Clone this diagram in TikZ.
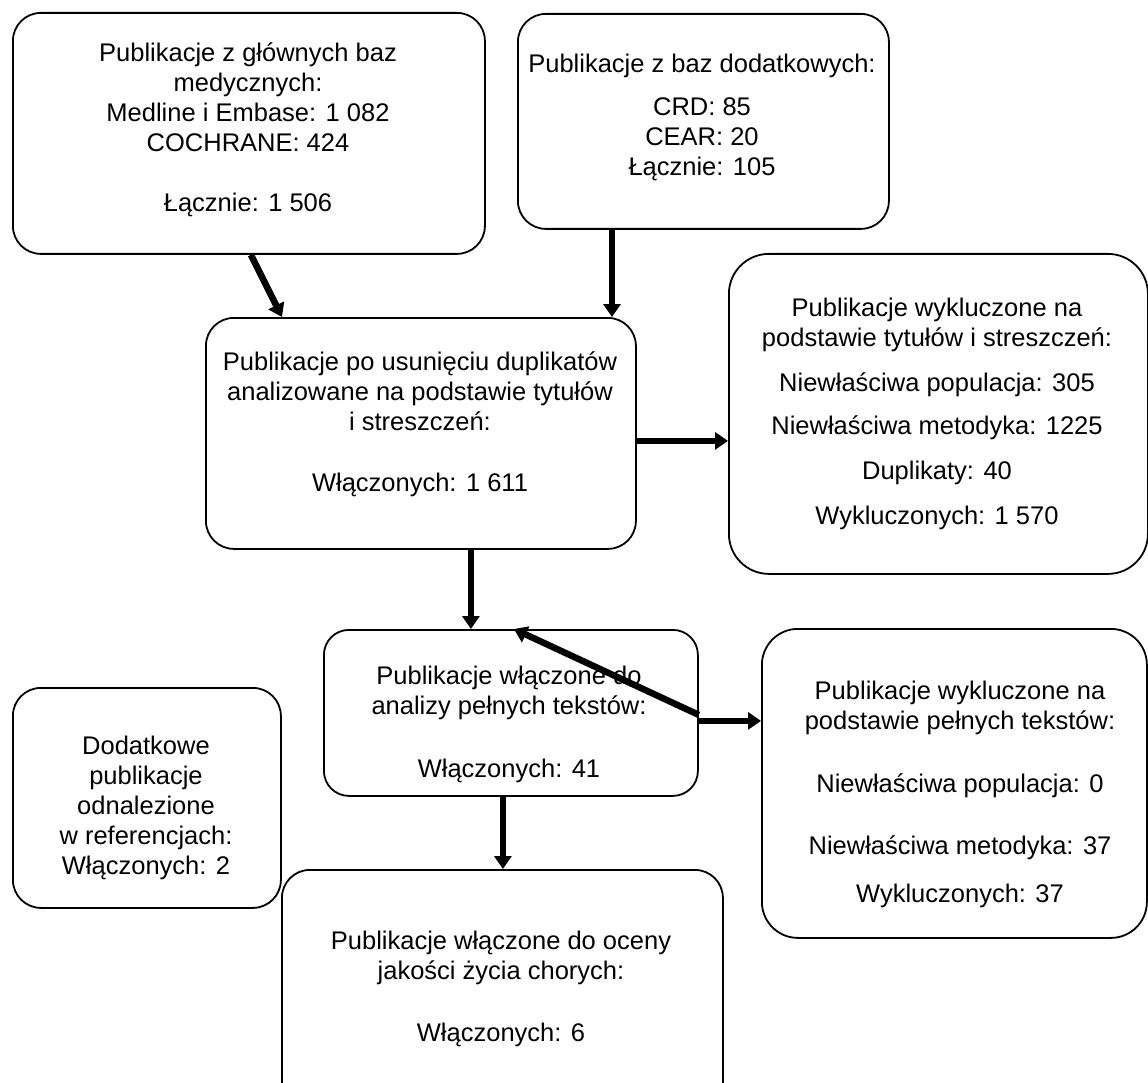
\documentclass[tikz,border=0pt]{standalone}
\usepackage{fontspec}
\setmainfont{Liberation Sans}
\usetikzlibrary{arrows.meta}
\begin{document}
\begin{tikzpicture}[x=1pt,y=-1pt,
  box/.style={draw, line width=1.8pt, rounded corners=#1, inner sep=0pt, anchor=north west, fill=white},
  txt/.style={align=center, inner sep=0pt, font=\fontsize{25.5}{30}\selectfont},
  arr/.style={line width=6.5pt, -{Triangle[length=13pt,width=17pt]}}]
\fill[white] (0,0) rectangle (1148,1083);
\useasboundingbox (0,0) rectangle (1148,1083);
% boxes
\node[box=28pt, minimum width=472pt, minimum height=241pt] (A) at (12,12) {};
\node[box=28pt, minimum width=371pt, minimum height=215pt] (B) at (517,13) {};
\node[box=28pt, minimum width=430pt, minimum height=231pt] (C) at (205,317) {};
\node[box=40pt, minimum width=419pt, minimum height=320pt] (D) at (728,253) {};
\node[box=25pt, minimum width=374pt, minimum height=166pt] (E) at (323,629) {};
\node[box=36pt, minimum width=385pt, minimum height=309pt] (F) at (761,628) {};
\node[box=28pt, minimum width=268pt, minimum height=220pt] (G) at (12,687) {};
\node[box=28pt, minimum width=441pt, minimum height=260pt] (H) at (281,869) {};
% texts
\node[txt] (tA) at (248,130) {Publikacje z głównych baz\\ medycznych:\\ Medline i Embase: 1 082\\ COCHRANE: 424\\[30pt] Łącznie: 1 506};
\node[txt] (tB) at (702,117) {Publikacje z baz dodatkowych:\\[13pt] CRD: 85\\ CEAR: 20\\ Łącznie: 105};
\node[txt] (tC) at (420,424) {Publikacje po usunięciu duplikatów\\ analizowane na podstawie tytułów\\ i streszczeń:\\[31pt] Włączonych: 1 611};
\node[txt] (tD) at (937,414) {Publikacje wykluczone na\\ podstawie tytułów i streszczeń:\\[15pt] Niewłaściwa populacja: 305\\[13pt] Niewłaściwa metodyka: 1225\\[15pt] Duplikaty: 40\\[15pt] Wykluczonych: 1 570};
\node[txt] (tE) at (509,724) {Publikacje włączone do\\ analizy pełnych tekstów:\\[33pt] Włączonych: 41};
\node[txt] (tF) at (960,794) {Publikacje wykluczone na\\ podstawie pełnych tekstów:\\[33pt] Niewłaściwa populacja: 0\\[32pt] Niewłaściwa metodyka: 37\\[18pt] Wykluczonych: 37};
\node[txt] (tG) at (146,808) {Dodatkowe\\ publikacje\\ odnalezione\\ w referencjach:\\ Włączonych: 2};
\node[txt] (tH) at (501,989) {Publikacje włączone do oceny\\ jakości życia chorych:\\[32pt] Włączonych: 6};
% connectors
\draw[arr] ([xshift=2pt]A.south) -- ([xshift=77pt]C.north west);
\coordinate (b1) at ([xshift=95pt]B.south west);
\draw[arr] (b1) -- (b1 |- C.north);
\coordinate (c1) at ([yshift=-7.5pt]C.east);
\draw[arr] (c1) -- (c1 -| D.west);
\coordinate (c2) at ([xshift=50pt]C.south);
\draw[arr] (c2) -- (c2 |- E.north);
\coordinate (e1) at ([yshift=-8pt]E.east);
\draw[arr] (e1) -- (e1 -| F.west);
\draw[arr] ([yshift=-2pt]E.east) -- ([xshift=3pt]E.north);
\coordinate (e2) at ([xshift=-8pt]E.south);
\draw[arr] (e2) -- (e2 |- H.north);
\end{tikzpicture}
\end{document}
